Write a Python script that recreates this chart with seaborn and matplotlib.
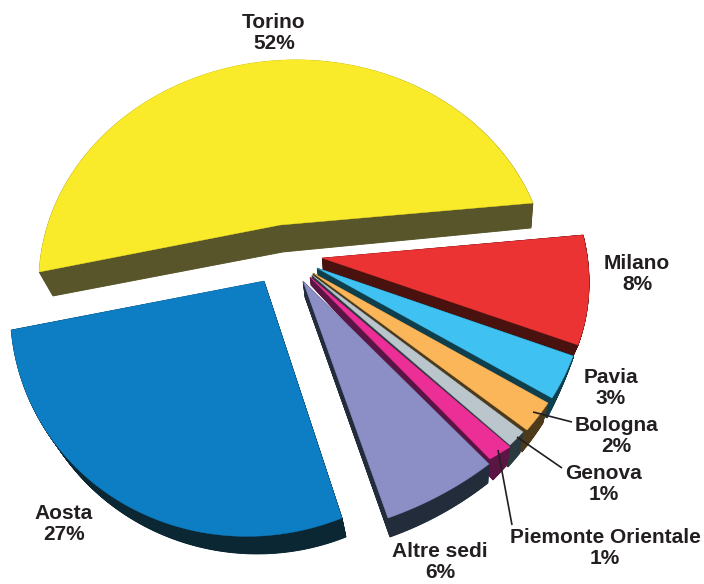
import numpy as np
import matplotlib
matplotlib.use("Agg")
import matplotlib.pyplot as plt
import seaborn as sns

# ---- data ----
names = ["Torino", "Milano", "Pavia", "Bologna", "Genova",
         "Piemonte Orientale", "Altre sedi", "Aosta"]
shares = [52, 8, 3, 2, 1, 1, 6, 27]
top_colors = ["#F9EA2A", "#EC3333", "#3FC2F2", "#FBB65A",
              "#BAC5CC", "#EC2F96", "#8C8EC6", "#0E7EC4"]
side_colors = ["#58552A", "#4A120F", "#0F3F4C", "#4C3A1B",
               "#2A3A3F", "#5A1545", "#222C3B", "#0B2733"]

# ---- layout: where each unit-circle wedge lands on the page ----
# (apex, rim point at wedge start, rim point at wedge end, optional arc midpoint)
top_frames = [
    [(280, 225), (39, 272), (533, 203), (252, 63)],
    [(322, 258), (583, 235), (578, 345)],
    [(317, 268), (573, 356), (552, 398)],
    [(313, 273), (548, 403), (527, 430)],
    [(312, 275), (523, 432), (510, 445)],
    [(310, 277), (510, 447), (490, 459)],
    [(303, 281), (489, 464), (388, 518)],
    [(264, 281), (342, 518), (11, 330), (124, 504)],
]
bottom_frames = [
    [(283, 252), (53, 296), (531, 228), (252, 88)],
    [(323, 270), (583, 240), (573, 356)],
    [(318, 275), (573, 358), (547, 418)],
    [(313, 280), (543, 423), (522, 452)],
    [(312, 282), (520, 453), (508, 467)],
    [(311, 285), (507, 465), (493, 480)],
    [(305, 297), (488, 483), (390, 537)],
    [(266, 300), (346, 537), (24, 338), (127, 516)],
]
labels = [
    ("Torino\n52%", 274, 33), ("Milano\n8%", 637, 274), ("Pavia\n3%", 611, 388),
    ("Bologna\n2%", 616, 436), ("Genova\n1%", 604, 484),
    ("Piemonte Orientale\n1%", 605, 548), ("Altre sedi\n6%", 440, 562),
    ("Aosta\n27%", 64, 524),
]
leaders = [
    ((533, 412), (572, 422)),
    ((517, 437), (562, 468)),
    ((498, 450), (512, 525)),
]


def unit(deg):
    t = np.radians(deg)
    return np.array([np.cos(t), np.sin(t)])


def fit_map(src, dst):
    """Affine map for 3 anchor pairs, projective map for 4."""
    src, dst = np.asarray(src, float), np.asarray(dst, float)
    if len(src) == 3:
        A = np.c_[src, np.ones(3)]
        return np.vstack([np.linalg.solve(A, dst).T, [0, 0, 1]])
    rows, rhs = [], []
    for (x, y), (u, v) in zip(src, dst):
        rows.append([x, y, 1, 0, 0, 0, -u * x, -u * y])
        rows.append([0, 0, 0, x, y, 1, -v * x, -v * y])
        rhs += [u, v]
    return np.append(np.linalg.solve(np.array(rows), np.array(rhs)), 1).reshape(3, 3)


def apply_map(H, pts):
    p = np.c_[pts, np.ones(len(pts))] @ H.T
    return p[:, :2] / p[:, 2:]


def project(theta1, theta2, frame, pts):
    mid = 0.5 * (theta1 + theta2)
    src = [(0, 0), unit(theta2), unit(theta1)]
    if len(frame) == 4:
        src.append(unit(mid))
    return apply_map(fit_map(src, frame), pts)


sns.set_theme(style="white")
plt.rcParams["font.family"] = ["Liberation Sans", "DejaVu Sans"]

fig = plt.figure(figsize=(7.04, 5.84), dpi=100, facecolor="white")
ax = fig.add_axes([0, 0, 1, 1])
wedges, _ = ax.pie(shares, startangle=183.6, counterclock=False, colors=top_colors)

ax.set_aspect("auto")
ax.set_xlim(0, 704)
ax.set_ylim(584, 0)
ax.axis("off")

for w, side, ftop, fbot in zip(wedges, side_colors, top_frames, bottom_frames):
    th = np.radians(np.linspace(float(w.theta1), float(w.theta2), 160))
    outline = np.vstack([[0, 0], np.c_[np.cos(th), np.sin(th)]])
    vt = project(float(w.theta1), float(w.theta2), ftop, outline)
    vb = project(float(w.theta1), float(w.theta2), fbot, outline)
    face = w.get_facecolor()
    w.remove()
    for f in np.linspace(1, 0.02, 40):
        ax.fill(*(vt + (vb - vt) * f).T, color=side, lw=0.6)
    ax.fill(*vt.T, facecolor=face, edgecolor=face, lw=0.3)

for a, b in leaders:
    ax.plot([a[0], b[0]], [a[1], b[1]], color="#231F20", lw=1.2, solid_capstyle="butt")

for text, x, y in labels:
    ax.text(x, y, text, ha="center", va="center", fontsize=15, fontweight="bold",
            color="#231F20", linespacing=1.12)

fig.savefig("out.png", dpi=100)
